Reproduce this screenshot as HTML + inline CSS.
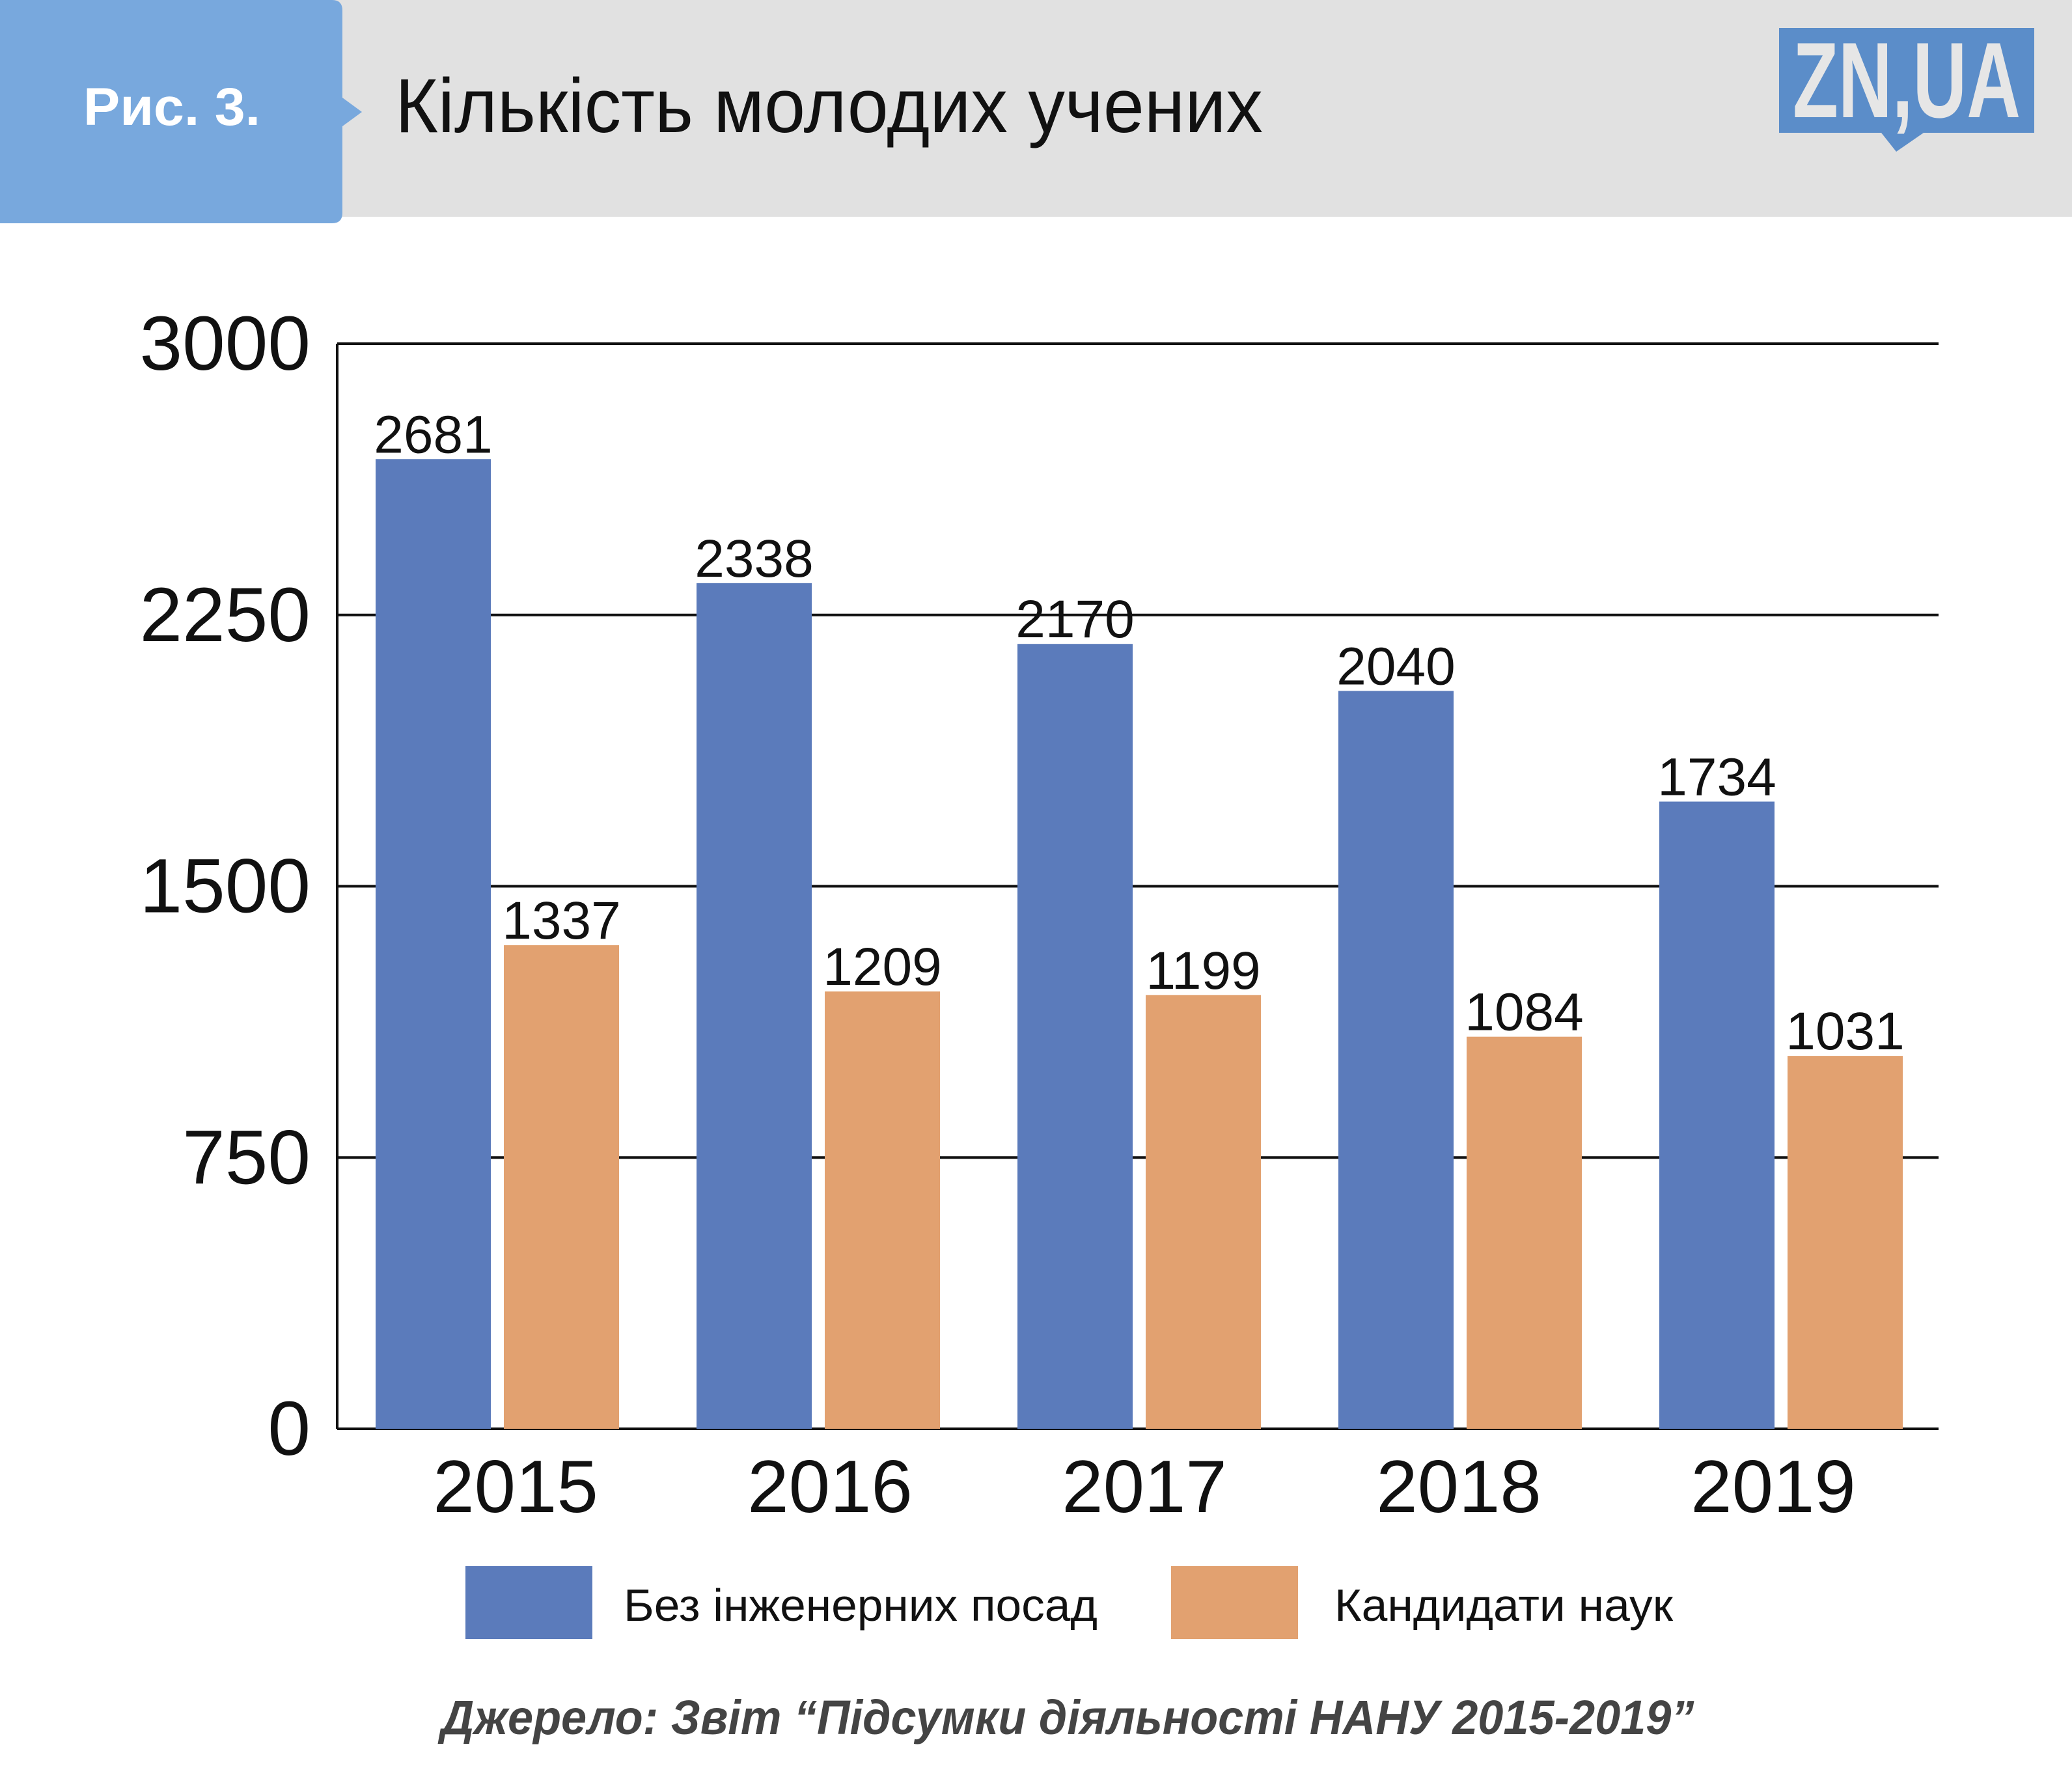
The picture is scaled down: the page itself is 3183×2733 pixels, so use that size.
<!DOCTYPE html>
<html><head><meta charset="utf-8"><style>
body{margin:0;width:3183px;height:2728px;background:#fff;overflow:hidden;font-family:"Liberation Sans","DejaVu Sans",sans-serif}
</style></head><body>
<svg width="3183" height="2728" xmlns="http://www.w3.org/2000/svg">
<rect x="0" y="0" width="3183" height="333" fill="#e1e1e1"/>
<path d="M0 0 H510 Q526 0 526 16 V150 L556 172 L526 194 V327 Q526 343 510 343 H0 Z" fill="#78a8dd"/>
<text x="128" y="192" font-size="82" font-weight="bold" fill="#fff" textLength="272" lengthAdjust="spacingAndGlyphs">Рис. 3.</text>
<text x="607" y="203" font-size="118" fill="#111" textLength="1333" lengthAdjust="spacingAndGlyphs">Кількість молодих учених</text>
<g>
<rect x="2733" y="43" width="392" height="161" fill="#5b8dc9"/>
<path d="M2890 204 L2913 233 L2955 204 Z" fill="#5b8dc9"/>
<text x="2929" y="180" font-size="165" font-weight="bold" fill="#e6e6e6" text-anchor="middle" textLength="350" lengthAdjust="spacingAndGlyphs">ZN,UA</text>
</g>
<g id="grid"></g><g id="bars"></g><g id="labels"></g>
<g>
<rect x="715" y="2406" width="195" height="112" fill="#5b7bbb"/>
<text x="958" y="2490" font-size="70" fill="#111" textLength="728" lengthAdjust="spacingAndGlyphs">Без інженерних посад</text>
<rect x="1799" y="2406" width="195" height="112" fill="#e2a170"/>
<text x="2050" y="2490" font-size="70" fill="#111" textLength="520" lengthAdjust="spacingAndGlyphs">Кандидати наук</text>
</g>
<text x="1640" y="2664" font-size="74" font-weight="bold" font-style="italic" fill="#444" text-anchor="middle" textLength="1925" lengthAdjust="spacingAndGlyphs">Джерело: Звіт “Підсумки діяльності НАНУ 2015-2019”</text>
</svg>
<script>
const categories=["2015","2016","2017","2018","2019"];
const seriesA=[2681,2338,2170,2040,1734];
const seriesB=[1337,1209,1199,1084,1031];
const ticks=[0,750,1500,2250,3000];
const NS="http://www.w3.org/2000/svg";
const x0=518,x1=2978,yTop=528,yBot=2195,maxV=3000;
const y=v=>yBot-(v/maxV)*(yBot-yTop);
const groupX=i=>577+i*493;
const labelX=i=>792+i*483;
const bw=177,gap=20;
function mk(tag,attrs,parent){const e=document.createElementNS(NS,tag);for(const k in attrs)e.setAttribute(k,attrs[k]);document.getElementById(parent).appendChild(e);return e;}
ticks.forEach(t=>{
 const l=mk('line',{x1:x0,x2:x1,y1:y(t),y2:y(t),stroke:'#111','stroke-width':4},'grid');
 
 
 const tx=mk('text',{x:477,y:y(t)+40,'font-size':118,'text-anchor':'end',fill:'#111'},'grid');tx.textContent=t;
 
 
});
const ax=mk('line',{x1:x0,x2:x0,y1:yTop,y2:yBot,stroke:'#111','stroke-width':4},'grid');


categories.forEach((c,i)=>{
 const gx=groupX(i);
 [[seriesA[i],gx,'#5b7bbb','bar-blue'],[seriesB[i],gx+bw+gap,'#e2a170','bar-orange']].forEach(([v,bx,col,nm])=>{
  const r=mk('rect',{x:bx,y:y(v),width:bw,height:yBot-y(v),fill:col},'bars');
  
  
  const t=mk('text',{x:bx+bw/2,y:y(v)-10,'font-size':82,'text-anchor':'middle',fill:'#111'},'labels');t.textContent=v;
  
  
 });
 const yl=mk('text',{x:labelX(i),y:2323,'font-size':114,'text-anchor':'middle',fill:'#111'},'labels');yl.textContent=c;
 
 
});
</script>
</body></html>
